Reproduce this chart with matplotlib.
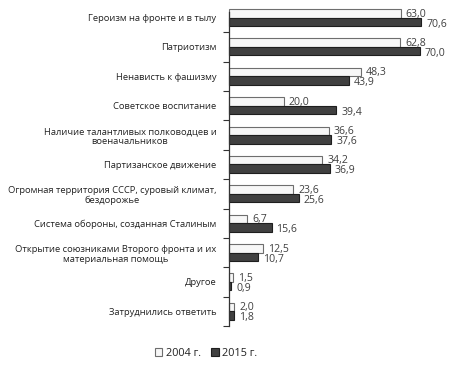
import matplotlib.pyplot as plt
import numpy as np

plt.rcParams['font.family'] = ['Open Sans', 'DejaVu Sans']

categories = [
    'Героизм на фронте и в тылу',
    'Патриотизм',
    'Ненависть к фашизму',
    'Советское воспитание',
    'Наличие талантливых полководцев и\nвоеначальников',
    'Партизанское движение',
    'Огромная территория СССР, суровый климат,\nбездорожье',
    'Система обороны, созданная Сталиным',
    'Открытие союзниками Второго фронта и их\nматериальная помощь',
    'Другое',
    'Затруднились ответить',
]
vals_2004 = [63.0, 62.8, 48.3, 20.0, 36.6, 34.2, 23.6, 6.7, 12.5, 1.5, 2.0]
vals_2015 = [70.6, 70.0, 43.9, 39.4, 37.6, 36.9, 25.6, 15.6, 10.7, 0.9, 1.8]
legend_labels = ['2004 г.', '2015 г.']

fig = plt.figure(figsize=(4.54, 3.79), dpi=100)
ax = fig.add_axes([229 / 454, 1 - 326 / 379, 218 / 454, (326 - 12) / 379])

y = np.arange(len(categories))
h = 0.29
b1 = ax.barh(y - h / 2, vals_2004, height=h, color='#f7f7f7', edgecolor='#6e6e6e',
             linewidth=0.8, label=legend_labels[0], clip_on=False)
b2 = ax.barh(y + h / 2, vals_2015, height=h, color='#404040', edgecolor='#1e1e1e',
             linewidth=0.8, label=legend_labels[1], clip_on=False)

fmt = lambda v: f'{v:.1f}'.replace('.', ',')
for i, (a, b) in enumerate(zip(vals_2004, vals_2015)):
    ax.text(a + 1.8, i - 0.12, fmt(a), va='center', ha='left', fontsize=7.6, color='#404040')
    ax.text(b + 1.8, i + 0.22, fmt(b), va='center', ha='left', fontsize=7.6, color='#404040')

ax.set_xlim(0, 80)
ax.set_ylim(10.5, -0.19)
ax.set_yticks(y)
ax.set_yticklabels(categories, fontsize=6.75, color='#222222', multialignment='center')
ax.set_yticks(np.arange(0.5, 11, 1), minor=True)
ax.tick_params(axis='y', which='major', length=0, pad=9)
ax.tick_params(axis='y', which='minor', length=4, width=0.8, color='#333333', direction='out')
ax.set_xticks([])
for s in ['top', 'right', 'bottom']:
    ax.spines[s].set_visible(False)
ax.spines['left'].set_color('#333333')
ax.spines['left'].set_linewidth(0.9)

fig.legend(handles=[b1, b2], labels=legend_labels, loc='center', bbox_to_anchor=(206 / 454, 1 - 353 / 379),
           ncol=2, frameon=False, fontsize=7.8, handlelength=0.7, handleheight=0.7,
           handletextpad=0.3, columnspacing=1.0, labelcolor='#222222')

fig.savefig('out.png', dpi=100)
